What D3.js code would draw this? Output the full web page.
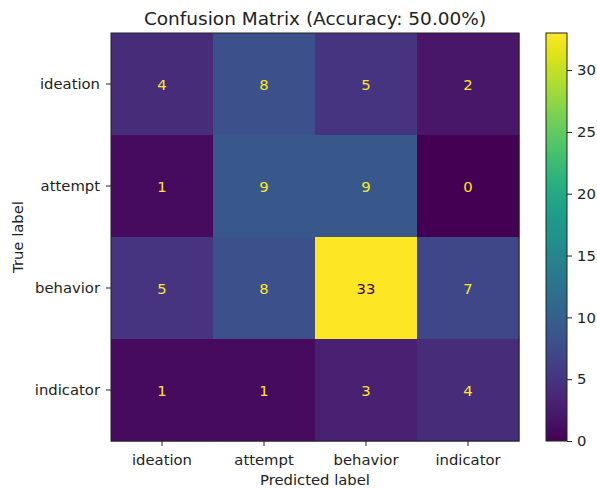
<!DOCTYPE html>
<html>
<head>
<meta charset="utf-8">
<script src="https://cdn.jsdelivr.net/npm/d3@7"></script>
<style>
  body { margin: 0; background: #fff; }
  text { font-family: "DejaVu Sans", sans-serif; fill: #222; }
</style>
</head>
<body>
<svg id="chart" width="597" height="489"></svg>
<script>
// class labels, in row / column order
var classes = ["ideation", "attempt", "behavior", "indicator"];

// counts: rows = true label, cols = predicted label
var row_ideation  = [4, 8, 5, 2];
var row_attempt   = [1, 9, 9, 0];
var row_behavior  = [5, 8, 33, 7];
var row_indicator = [1, 1, 3, 4];
var matrix = [row_ideation, row_attempt, row_behavior, row_indicator];

var colorbarTicks = [0, 5, 10, 15, 20, 25, 30];
var titleText = "Confusion Matrix (Accuracy: 50.00%)";

var svg = d3.select("#chart");

// note: "top" is taken by window.top, so use other names
var plotLeft = 111, plotTop = 33, plotSize = 408;
var fontSize = "14.8px";

var x = d3.scaleBand().domain(classes).range([plotLeft, plotLeft + plotSize]);
var y = d3.scaleBand().domain(classes).range([plotTop, plotTop + plotSize]);

var vmax = d3.max(matrix, function(r) { return d3.max(r); });
var color = d3.scaleSequential(d3.interpolateViridis).domain([0, vmax]);

var cells = [];
matrix.forEach(function(row, i) {
    row.forEach(function(v, j) {
        cells.push({ t: classes[i], p: classes[j], v: v });
    });
});

svg.selectAll("rect.cell")
        .data(cells)
        .enter().append("rect")
        .attr("class", "cell")
        .attr("x", function(d) { return x(d.p); })
        .attr("y", function(d) { return y(d.t); })
        .attr("width", x.bandwidth() + 0.5)
        .attr("height", y.bandwidth() + 0.5)
        .attr("fill", function(d) { return color(d.v); });

svg.selectAll("text.val")
        .data(cells)
        .enter().append("text")
        .attr("class", "val")
        .attr("x", function(d) { return x(d.p) + x.bandwidth() / 2; })
        .attr("y", function(d) { return y(d.t) + y.bandwidth() / 2; })
        .attr("text-anchor", "middle")
        .attr("dominant-baseline", "central")
        .style("font-size", fontSize)
        .style("fill", function(d) { return d.v > vmax / 2 ? color(0) : color(vmax); })
        .text(function(d) { return d.v; });

// frame
svg.append("rect")
        .attr("x", plotLeft).attr("y", plotTop)
        .attr("width", plotSize).attr("height", plotSize)
        .attr("fill", "none").attr("stroke", "#222").attr("stroke-width", 1);

// axes
var xAxis = svg.append("g")
        .attr("transform", "translate(0," + (plotTop + plotSize) + ")")
        .call(d3.axisBottom(x).tickSize(5).tickPadding(8));
var yAxis = svg.append("g")
        .attr("transform", "translate(" + plotLeft + ",0)")
        .call(d3.axisLeft(y).tickSize(5).tickPadding(6));
[xAxis, yAxis].forEach(function(g) {
    g.select(".domain").remove();
    g.selectAll("line").attr("stroke", "#222");
    g.selectAll("text").style("font-size", fontSize).style("font-family", "DejaVu Sans, sans-serif").attr("fill", "#222");
});

svg.append("text")
        .attr("x", plotLeft + plotSize / 2).attr("y", 485)
        .attr("text-anchor", "middle")
        .style("font-size", fontSize)
        .text("Predicted label");

svg.append("text")
        .attr("transform", "translate(23," + (plotTop + plotSize / 2) + ") rotate(-90)")
        .attr("text-anchor", "middle")
        .style("font-size", fontSize)
        .text("True label");

svg.append("text")
        .attr("x", plotLeft + plotSize / 2).attr("y", 25)
        .attr("text-anchor", "middle")
        .style("font-size", "18.5px")
        .text(titleText);

// colorbar
var cbX = 546, cbW = 21;
var cy = d3.scaleLinear().domain([0, vmax]).range([plotTop + plotSize, plotTop]);

var defs = svg.append("defs");
var grad = defs.append("linearGradient")
        .attr("id", "cbgrad")
        .attr("x1", 0).attr("y1", 1).attr("x2", 0).attr("y2", 0);
d3.range(0, 1.0001, 0.05).forEach(function(t) {
    grad.append("stop")
            .attr("offset", t)
            .attr("stop-color", d3.interpolateViridis(t));
});

svg.append("rect")
        .attr("x", cbX).attr("y", plotTop)
        .attr("width", cbW).attr("height", plotSize)
        .attr("fill", "url(#cbgrad)")
        .attr("stroke", "#222").attr("stroke-width", 1);

var cAxis = svg.append("g")
        .attr("transform", "translate(" + (cbX + cbW) + ",0)")
        .call(d3.axisRight(cy).tickValues(colorbarTicks).tickSize(5).tickPadding(5));
cAxis.select(".domain").remove();
cAxis.selectAll("line").attr("stroke", "#222");
cAxis.selectAll("text").style("font-size", fontSize).style("font-family", "DejaVu Sans, sans-serif").attr("fill", "#222");
</script>
</body>
</html>
